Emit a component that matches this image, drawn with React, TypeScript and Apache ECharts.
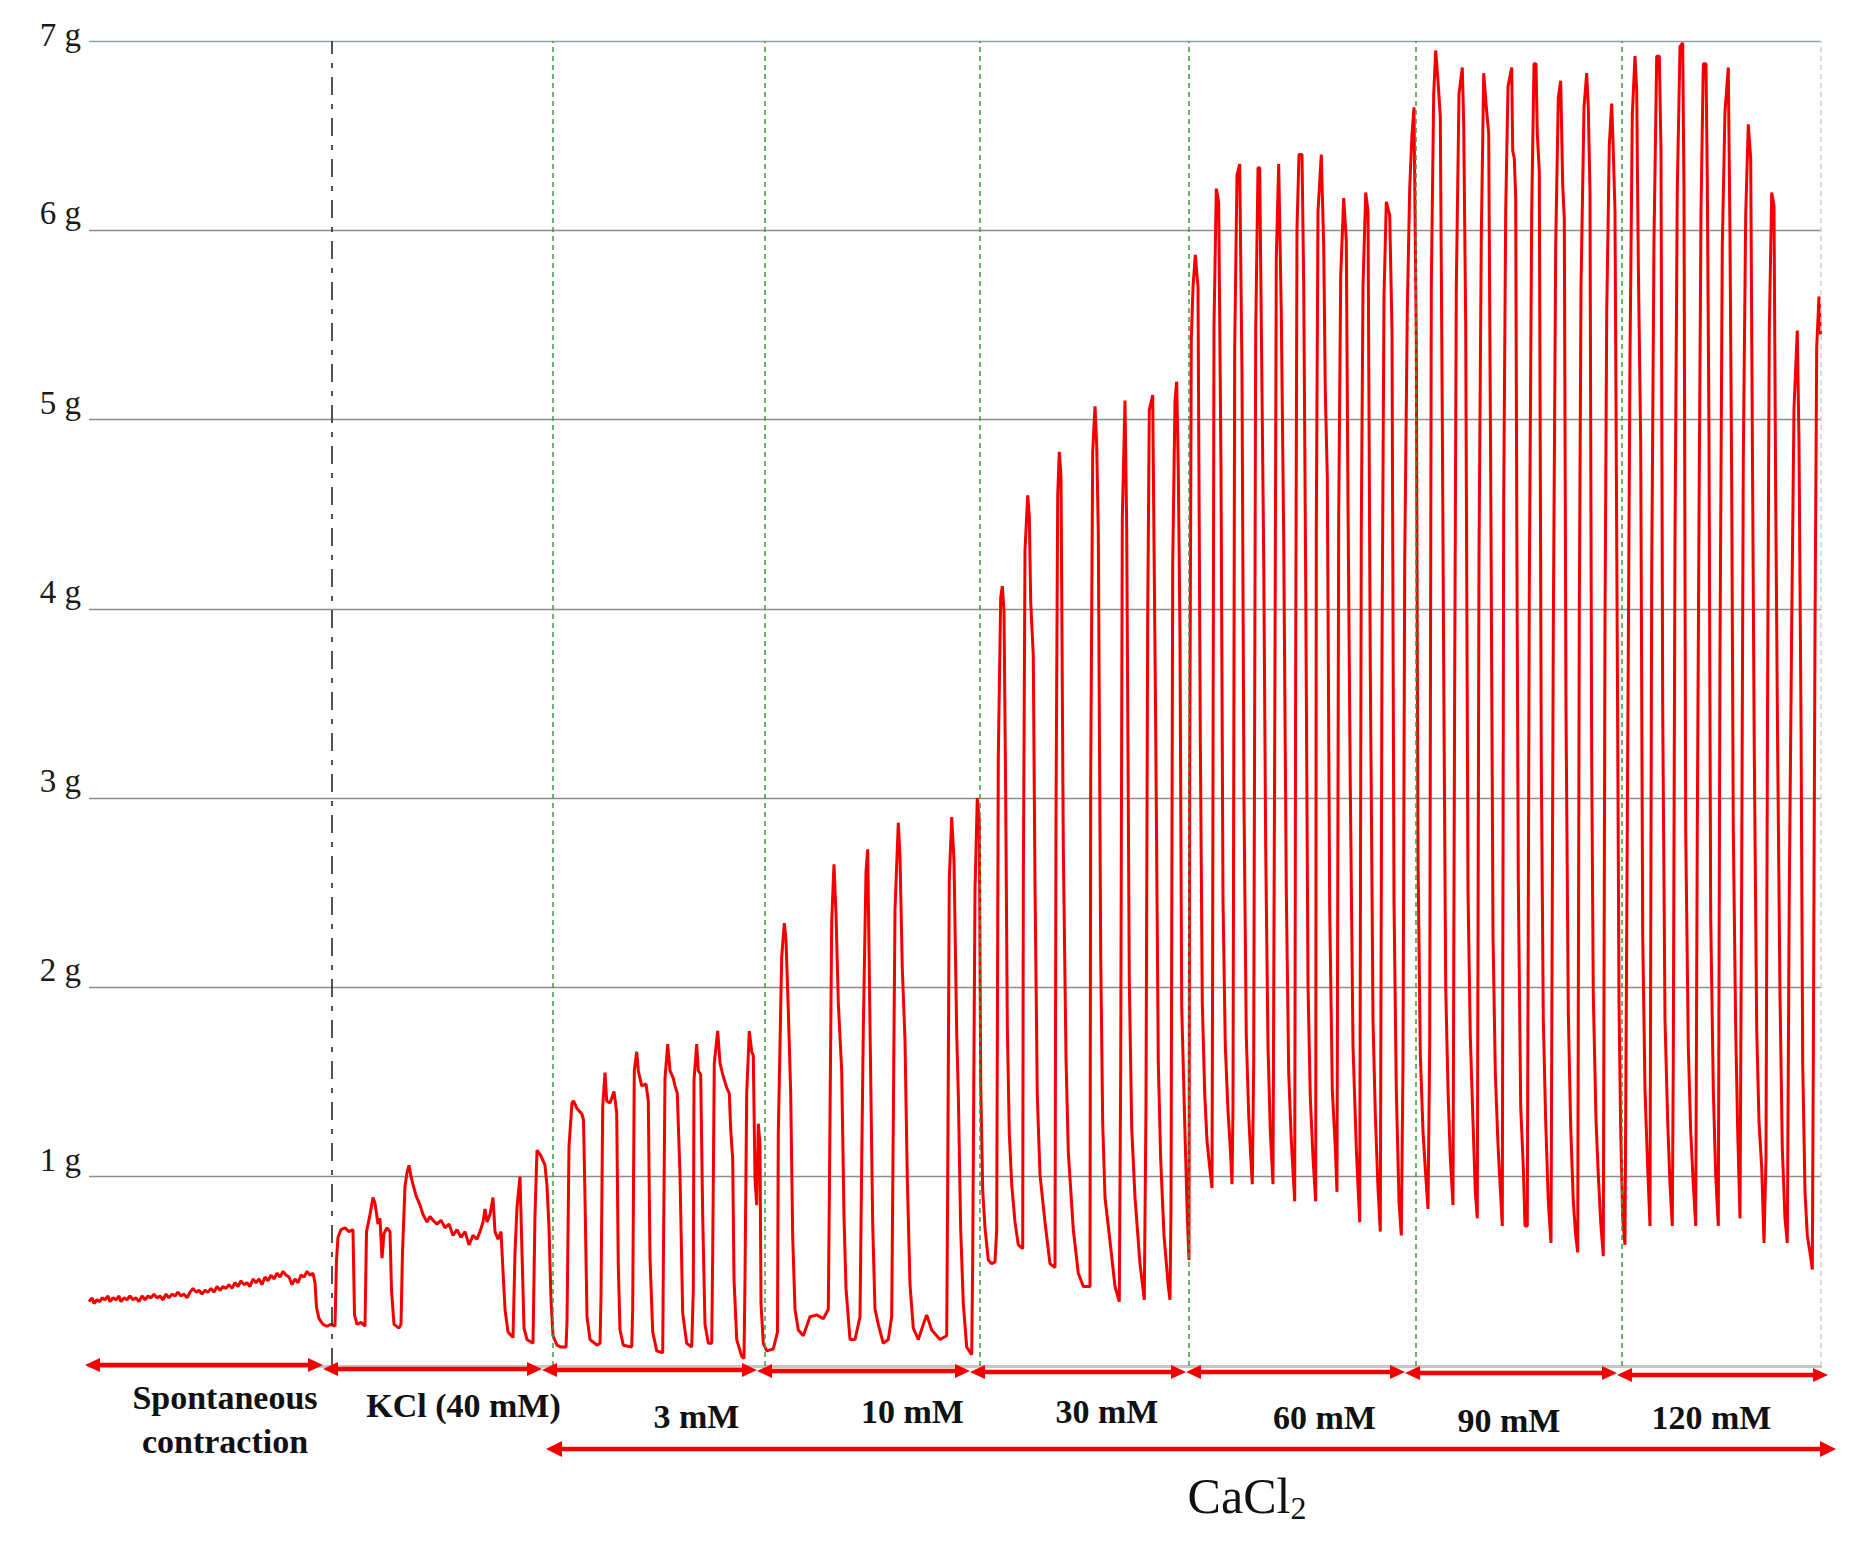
import React, { useEffect, useRef } from "react";
import * as echarts from "echarts";

// ---------- data (time in arbitrary recording units, force in g) ----------
const yTicks = [0, 1, 2, 3, 4, 5, 6, 7];
const tEnd = 1732;

const spontaneous: number[][] = [
  [0, 0.34], [3, 0.36], [5, 0.33], [8, 0.35], [11, 0.34], [13, 0.36], [16, 0.35], [19, 0.37], [21, 0.34], [24, 0.36],
  [27, 0.35], [30, 0.37], [32, 0.34], [35, 0.36], [38, 0.35], [41, 0.37], [44, 0.35], [47, 0.36], [50, 0.34], [53, 0.37],
  [56, 0.35], [59, 0.37], [62, 0.36], [65, 0.38], [68, 0.36], [71, 0.37], [74, 0.35], [77, 0.38], [80, 0.36], [83, 0.38],
  [86, 0.37], [89, 0.39], [92, 0.37], [95, 0.38], [98, 0.36], [101, 0.39], [104, 0.41], [107, 0.39], [110, 0.4], [113, 0.38],
  [116, 0.4], [119, 0.39], [122, 0.41], [125, 0.39], [128, 0.42], [131, 0.4], [134, 0.42], [137, 0.41], [140, 0.43], [143, 0.41],
  [146, 0.44], [149, 0.42], [152, 0.45], [155, 0.43], [158, 0.44], [161, 0.42], [164, 0.46], [167, 0.44], [170, 0.46], [173, 0.43],
  [176, 0.47], [179, 0.45], [182, 0.48], [185, 0.46], [188, 0.49], [191, 0.47], [194, 0.5], [197, 0.48], [200, 0.47], [203, 0.43],
  [206, 0.46], [209, 0.44], [212, 0.48], [215, 0.47], [218, 0.5], [221, 0.48], [224, 0.49], [226, 0.44], [227.5, 0.31], [230, 0.25],
  [234, 0.22], [238, 0.21], [242, 0.22], [246, 0.21],
];

const kcl: number[][] = [
  [247.5, 0.56], [249, 0.68], [252, 0.72], [256, 0.73], [260, 0.71], [264, 0.72], [265.5, 0.27], [268, 0.22], [272, 0.23],
  [276, 0.21], [277.5, 0.71], [281, 0.8], [284, 0.89], [286, 0.86], [289, 0.75], [291, 0.78], [293, 0.57], [295, 0.7],
  [298, 0.73], [301, 0.71], [302.5, 0.4], [305, 0.22], [310, 0.2], [312, 0.22], [313.5, 0.6], [316, 0.95], [318, 1.02],
  [320, 1.06], [322, 1.0], [324, 0.96], [327, 0.9], [331, 0.85], [334, 0.8], [338, 0.76], [341, 0.79], [344, 0.77],
  [348, 0.75], [352, 0.77], [356, 0.73], [360, 0.75], [364, 0.69], [368, 0.72], [372, 0.68], [376, 0.71], [380, 0.64],
  [384, 0.69], [388, 0.67], [391, 0.71], [394, 0.76], [396, 0.83], [398, 0.76], [401, 0.8], [404, 0.89], [406, 0.71],
  [409, 0.67], [412, 0.71], [414, 0.5], [416, 0.3], [419, 0.18], [424, 0.15], [426, 0.6], [428, 0.84], [431, 1.0],
  [433, 0.6], [435, 0.2], [438, 0.14], [444, 0.12], [446, 0.8], [448, 1.14], [452, 1.11], [456, 1.06], [458, 0.95],
  [460, 0.73], [462, 0.35], [464, 0.16], [468, 0.11], [472, 0.1], [477, 0.1],
];

const ca3: number[][] = [
  [478, 0.23], [480, 1.16], [483, 1.39], [484.5, 1.4], [488, 1.36], [493, 1.33], [494.5, 1.3], [496, 0.89], [498, 0.26], [501, 0.14], [508, 0.11], [511, 0.12],
  [512, 0.36], [513.7, 1.37], [516, 1.55], [517.7, 1.4], [521, 1.39], [525, 1.45], [527.7, 1.34], [529.3, 0.53], [531, 0.19], [534.3, 0.11], [542.7, 0.1],
  [543.7, 0.3], [545.3, 1.56], [547.7, 1.66], [549.3, 1.56], [552.7, 1.48], [557, 1.49], [559.3, 1.4], [561, 0.57], [563.7, 0.18], [567.7, 0.08], [573.7, 0.07],
  [574.3, 0.51], [576, 1.52], [578.7, 1.7], [581, 1.56], [584.3, 1.52], [586, 1.48], [588.3, 1.44], [591, 1.01], [593.7, 0.28], [597.7, 0.12], [602.7, 0.1],
  [604.3, 0.4], [605, 1.51], [607.7, 1.7], [609.3, 1.56], [611.7, 1.54], [613.7, 0.79], [616, 0.22], [619.3, 0.12], [622.7, 0.12],
  [623.7, 0.59], [625.3, 1.6], [628.7, 1.77], [631, 1.6], [633.7, 1.54], [637.7, 1.47], [640.3, 1.44], [641.7, 1.25], [643.7, 1.09], [645, 0.46], [647.7, 0.14], [652.7, 0.05], [655, 0.04],
  [656, 0.46], [657.7, 1.44], [660.3, 1.77], [662.7, 1.66], [664.3, 1.64], [666, 0.99], [667.7, 0.85], [669.3, 1.28], [671, 1.17], [672, 0.33], [674.3, 0.12], [677.7, 0.08], [684.3, 0.09],
];

const ca10: number[][] = [
  [688.5, 0.18], [689.3, 1.23], [692.7, 2.16], [695.3, 2.34], [697, 2.25], [699.3, 1.88], [701.7, 1.44], [703.7, 0.68], [706, 0.3], [709.3, 0.19], [714.3, 0.16], [721, 0.26], [727.7, 0.27], [734.3, 0.25], [739.3, 0.3],
  [740.3, 0.87], [742.7, 2.35], [745, 2.65], [747, 2.39], [749.3, 1.92], [752.7, 1.56], [755, 0.79], [757, 0.41], [761, 0.14], [766, 0.14], [771, 0.26],
  [772.7, 1.07], [774.3, 1.78], [777, 2.61], [778.7, 2.73], [781, 1.8], [783.7, 0.75], [786, 0.3], [789.3, 0.22], [794.3, 0.12], [799.3, 0.14], [802.7, 0.26],
  [804.3, 1.29], [806, 2.41], [809.3, 2.87], [811, 2.69], [813.3, 2.1], [816, 1.72], [818.3, 0.99], [821, 0.43], [824.3, 0.2], [829.3, 0.14], [834.3, 0.22], [837.7, 0.27], [842.7, 0.19], [851, 0.14], [857.7, 0.16],
  [858.7, 0.97], [860.3, 2.57], [862.7, 2.9], [865, 2.67], [867.7, 1.76], [869.3, 1.44], [871.7, 0.72], [874.3, 0.33], [877.7, 0.1], [882.7, 0.06],
  [883.7, 0.56], [886, 2.51], [888.3, 3.0], [890.3, 2.88], [891.7, 1.5], [893.7, 0.93], [896, 0.73], [899.3, 0.56], [902.7, 0.54], [906, 0.55],
];

const ca30: number[][] = [
  [907.7, 0.72], [909.3, 3.22], [911.7, 4.06], [913.3, 4.12], [915, 3.99], [916.7, 3.01], [918.3, 1.8], [920.3, 1.23], [922.7, 0.96], [926, 0.76], [929.3, 0.64], [933.7, 0.62],
  [934.3, 2.51], [936, 4.31], [938.7, 4.6], [940.3, 4.49], [941.7, 4.04], [944.3, 3.75], [946, 2.54], [948.3, 1.43], [951, 1.01], [956, 0.76], [961, 0.54], [966, 0.52],
  [967, 2.91], [968.7, 4.6], [970.3, 4.83], [972, 4.7], [974.3, 2.74], [977, 1.63], [979.3, 1.13], [984.3, 0.72], [989.3, 0.49], [994.3, 0.42], [1001, 0.42],
  [1001.7, 3.11], [1003.7, 4.83], [1006, 5.07], [1007.7, 4.87], [1009.3, 4.41], [1011.7, 2.17], [1013.7, 1.28], [1016, 0.89], [1021, 0.66], [1026, 0.42], [1030.3, 0.34],
  [1031.7, 1.57], [1033.3, 4.48], [1036, 5.1], [1037.7, 4.43], [1040.3, 2.04], [1042.7, 1.26], [1046, 0.89], [1051, 0.54], [1055.3, 0.35],
  [1057, 1.38], [1058.7, 3.96], [1060.3, 5.05], [1063.7, 5.13], [1065, 4.36], [1066.7, 3.37], [1069.3, 1.6], [1071.7, 1.09], [1075, 0.69], [1079.3, 0.42], [1081, 0.35],
  [1082, 0.83], [1083.7, 4.23], [1086, 5.1], [1087.7, 5.2], [1089.3, 4.73], [1091, 3.86], [1092.7, 1.9], [1096, 1.23], [1098.3, 0.79], [1100, 0.56],
];

const ca60: number[][] = [
  [1100.7, 3.15], [1102.3, 5.42], [1104, 5.7], [1106.3, 5.87], [1109, 5.7], [1111.3, 3.33], [1113.3, 1.92], [1115.7, 1.44], [1118, 1.19], [1120.7, 1.05], [1123, 0.94],
  [1123.5, 1.9], [1125, 5.49], [1127.3, 6.22], [1129.7, 6.15], [1132, 4.74], [1134, 2.46], [1136.3, 1.69], [1139, 1.35], [1141.3, 1.15], [1143, 0.96],
  [1144, 1.37], [1145.7, 5.38], [1148, 6.29], [1150.7, 6.35], [1153, 5.24], [1155, 2.97], [1157.3, 1.74], [1159.7, 1.33], [1161.3, 1.15], [1163.3, 0.96],
  [1164.7, 1.6], [1166.7, 5.47], [1169, 6.33], [1170.7, 6.33], [1172.3, 5.51], [1174.7, 4.28], [1176.7, 2.74], [1179, 1.69], [1181.3, 1.24], [1184, 0.96],
  [1185.7, 3.28], [1187.3, 5.85], [1189.7, 6.35], [1192.3, 5.56], [1194.7, 4.38], [1197.3, 2.51], [1199.7, 1.55], [1202.3, 1.19], [1205.7, 0.87],
  [1206.7, 3.78], [1208, 6.01], [1210, 6.4], [1213, 6.4], [1214.7, 5.72], [1216.7, 4.15], [1219, 2.01], [1221.3, 1.42], [1224, 1.1], [1226.7, 0.87],
  [1227.3, 4.42], [1229, 6.1], [1232.3, 6.4], [1234.7, 5.92], [1236.3, 5.15], [1238.3, 4.69], [1240.7, 2.42], [1243.3, 1.46], [1246.3, 1.15], [1248, 0.92],
  [1249.7, 4.49], [1251.7, 5.76], [1254.7, 6.17], [1257.3, 5.95], [1259, 4.56], [1261.3, 3.06], [1264, 1.69], [1267.3, 1.15], [1270.7, 0.76],
  [1272.3, 4.42], [1274, 5.7], [1276.7, 6.2], [1279, 6.1], [1281.3, 3.69], [1284, 1.83], [1286.3, 1.33], [1289, 0.94], [1291.3, 0.71],
  [1293, 3.78], [1295, 5.65], [1297.3, 6.15], [1300.7, 6.08], [1303, 5.47], [1305, 2.46], [1307.3, 1.46], [1310, 0.87], [1312.3, 0.69],
  [1314, 1.6], [1315.7, 4.24], [1318.3, 5.58], [1320.7, 6.22], [1323, 6.51], [1325, 6.65], [1327.3, 5.42], [1329, 2.69], [1331.3, 1.65], [1334, 1.24], [1336.7, 1.01], [1339, 0.83],
];

const ca90: number[][] = [
  [1340.7, 1.69], [1342.3, 5.7], [1344.7, 6.72], [1346.7, 6.95], [1349, 6.79], [1351.3, 6.6], [1353.3, 5.01], [1355, 3.42], [1356.7, 2.01], [1359, 1.46], [1361.3, 1.1], [1364, 0.85],
  [1365.7, 3.65], [1367.3, 5.7], [1370, 6.72], [1373.3, 6.86], [1374.7, 6.56], [1376.7, 5.51], [1379, 2.51], [1381.3, 1.74], [1384, 1.29], [1386.3, 0.92], [1388.3, 0.78],
  [1390, 4.28], [1392.3, 5.97], [1394.7, 6.83], [1397.3, 6.65], [1399.7, 6.51], [1401.7, 4.72], [1404, 2.28], [1406.3, 1.55], [1409, 1.17], [1411.3, 0.94], [1413.3, 0.74],
  [1414.7, 4.58], [1416.7, 6.1], [1419, 6.76], [1422.7, 6.86], [1423.7, 6.42], [1425.3, 6.38], [1426.7, 6.17], [1427.7, 4.58], [1429.3, 2.56], [1431.7, 1.37], [1434.3, 1.05], [1436, 0.74], [1438.3, 0.74],
  [1440.3, 4.1], [1442.7, 6.1], [1445, 6.88], [1447, 6.88], [1448.3, 6.51], [1450.3, 6.31], [1452.3, 3.19], [1454.3, 1.83], [1456.7, 1.29], [1459.3, 0.87], [1462, 0.65],
  [1464.3, 3.88], [1466.7, 5.92], [1469.3, 6.7], [1471.7, 6.79], [1473.7, 6.24], [1475.3, 6.06], [1477, 3.47], [1479.3, 1.87], [1481.7, 1.26], [1484.3, 0.87], [1486.7, 0.69], [1488.7, 0.6],
  [1490.3, 3.97], [1492, 5.7], [1495, 6.65], [1497.7, 6.83], [1499.3, 6.65], [1501, 6.2], [1502.7, 3.19], [1504.3, 1.96], [1507, 1.3], [1509.3, 1.01], [1511.7, 0.76], [1514.3, 0.58],
  [1516, 3.92], [1517.7, 5.56], [1520.3, 6.45], [1522.7, 6.67], [1524.3, 6.42], [1526, 6.1], [1528.3, 3.78], [1530, 1.92], [1531.7, 1.24], [1533.7, 0.78], [1536, 0.64],
];

const ca120: number[][] = [
  [1538.7, 3.24], [1541, 5.33], [1543.3, 6.61], [1546, 6.92], [1547.7, 6.74], [1549.3, 5.83], [1551.7, 4.88], [1553.7, 2.28], [1556, 1.46], [1558.3, 1.1], [1561, 0.74],
  [1562.7, 4.19], [1565, 5.95], [1567.7, 6.92], [1570.3, 6.92], [1572, 6.42], [1573.7, 3.47], [1576, 1.83], [1578.7, 1.29], [1581, 0.96], [1583.3, 0.74],
  [1584.3, 1.62], [1586, 4.38], [1588.3, 6.22], [1591, 6.97], [1593.7, 6.99], [1595, 6.2], [1596.7, 2.83], [1599.3, 1.69], [1601.7, 1.24], [1604.3, 0.96], [1606.7, 0.74],
  [1608.3, 2.83], [1610, 4.47], [1612, 6.1], [1614.3, 6.88], [1617, 6.88], [1618.3, 6.26], [1620, 4.92], [1621.7, 2.37], [1624.3, 1.46], [1626.7, 1.01], [1629.3, 0.74],
  [1631, 3.78], [1633.3, 5.92], [1636, 6.63], [1639.3, 6.86], [1641, 5.97], [1642.7, 4.65], [1644.3, 2.83], [1646.7, 1.78], [1648.7, 1.24], [1651, 0.78],
  [1652.7, 2.6], [1654.3, 4.79], [1656.7, 6.08], [1659.3, 6.56], [1661.7, 6.38], [1663.7, 4.6], [1665.3, 3.24], [1667.7, 1.78], [1670, 1.29], [1672.7, 1.05], [1675, 0.65],
  [1677, 1.1], [1678.7, 3.69], [1680.3, 5.47], [1682.7, 6.2], [1685, 6.13], [1686.7, 4.6], [1688.7, 3.24], [1691, 1.96], [1693.3, 1.15], [1696, 0.78], [1698.3, 0.65],
  [1700.3, 2.51], [1702.7, 3.92], [1705, 5.06], [1708.3, 5.47], [1710, 4.88], [1712, 3.42], [1713.7, 1.6], [1716, 0.92], [1718.3, 0.69], [1721, 0.6], [1723.3, 0.51],
  [1724.3, 1.6], [1726, 3.88], [1727.7, 5.38], [1730, 5.65], [1731.5, 5.45],
];

// drug additions: first = KCl, rest = CaCl2 steps
const kclAddition = 243;
const cacl2Additions = [463.5, 675.7, 890.3, 1100, 1326.6, 1532.9];

const segmentNames = ["Spontaneous\ncontraction", "KCl (40 mM)", "3 mM", "10 mM", "30 mM", "60 mM", "90 mM", "120 mM"];
const segmentBounds = [-4, 234, 453, 668, 881, 1097, 1316, 1528, 1739];
const cacl2Span = [457, 1747];
const cacl2Name = "CaCl";
const cacl2Sub = "2";

// ---------- layout (pixels, not data) ----------
const LABEL_DX = [21, 31, 47, 49, 29, 29, -2, -11];
const LABEL_DY = [53, 39, 50, 45, 45, 51, 54, 51];
const ARROW_DY = [-1, 3, 4, 5, 6, 6, 7, 9];
const RED = "#f40000";
const SERIF = '"Liberation Serif", "Times New Roman", serif';

export default function App() {
  const ref = useRef<HTMLDivElement>(null);

  useEffect(() => {
    document.body.style.margin = "0";
    const chart = echarts.init(ref.current as HTMLDivElement, null, { renderer: "svg" });
    const trace = [...spontaneous, ...kcl, ...ca3, ...ca10, ...ca30, ...ca60, ...ca90, ...ca120];
    const segData = segmentNames.map((_, i) => [segmentBounds[i], segmentBounds[i + 1], i]);

    const arrow = (x0: number, x1: number, y: number, lw: number, hl: number, hw: number) => [
      { type: "line", shape: { x1: x0 + hl - 2, y1: y, x2: x1 - hl + 2, y2: y }, style: { stroke: RED, lineWidth: lw } },
      { type: "polygon", shape: { points: [[x0, y], [x0 + hl, y - hw], [x0 + hl, y + hw]] }, style: { fill: RED } },
      { type: "polygon", shape: { points: [[x1, y], [x1 - hl, y - hw], [x1 - hl, y + hw]] }, style: { fill: RED } },
    ];

    const gridColors = ["rgba(0,0,0,0)", "#8d8d8d", "#8d8d8d", "#8d8d8d", "#8d8d8d", "#8d8d8d", "#8d8d8d", "#8ea2ae"];

    chart.setOption({
      animation: false,
      grid: { left: 89, right: 38, top: 41, bottom: 184, containLabel: false },
      xAxis: {
        type: "value",
        min: 0,
        max: tEnd,
        axisLine: { show: true, lineStyle: { color: "#c6c6c6", width: 3 } },
        axisTick: { show: false },
        axisLabel: { show: false },
        splitLine: { show: false },
      },
      yAxis: {
        type: "value",
        min: yTicks[0],
        max: yTicks[yTicks.length - 1],
        interval: 1,
        axisLine: { show: false },
        axisTick: { show: false },
        axisLabel: {
          margin: 8,
          verticalAlign: "bottom",
          formatter: (v: number) => (v === 0 ? "" : v === 7 ? `{t|${v} g}` : `{n|${v} g}`),
          rich: {
            n: { fontSize: 33, fontFamily: SERIF, color: "#1a1a1a", lineHeight: 34 },
            t: { fontSize: 33, fontFamily: SERIF, color: "#1a1a1a", lineHeight: 12 },
          },
        },
        splitLine: { show: true, lineStyle: { color: gridColors, width: 1.3 } },
      },
      series: [
        {
          type: "line",
          data: trace,
          showSymbol: false,
          symbol: "none",
          lineStyle: { color: RED, width: 3 },
          z: 3,
          markLine: {
            silent: true,
            symbol: ["none", "none"],
            label: { show: false },
            animation: false,
            data: [
              { xAxis: kclAddition, lineStyle: { color: "#2a2a2a", type: [18, 9, 5, 9], width: 1.6 } },
              ...cacl2Additions.map((t) => ({ xAxis: t, lineStyle: { color: "#3f9a3a", type: [5, 4], width: 1.5 } })),
              { xAxis: tEnd, lineStyle: { color: "#cfcfcf", type: [5, 4], width: 1.5 } },
            ],
          },
        },
        {
          type: "custom",
          coordinateSystem: "cartesian2d",
          clip: false,
          silent: true,
          z: 5,
          data: segData,
          encode: { x: [0, 1] },
          renderItem: (_params: any, api: any) => {
            const i = api.value(2) as number;
            const a = api.coord([api.value(0), 0]);
            const b = api.coord([api.value(1), 0]);
            const y = a[1] + ARROW_DY[i];
            const mid = (a[0] + b[0]) / 2 + LABEL_DX[i];
            return {
              type: "group",
              children: [
                ...arrow(a[0], b[0], y, 4.5, 15, 7),
                {
                  type: "text",
                  style: {
                    text: segmentNames[i],
                    x: mid,
                    y: a[1] + LABEL_DY[i],
                    fill: "#111",
                    fontSize: 34,
                    fontWeight: "bold",
                    fontFamily: SERIF,
                    align: "center",
                    verticalAlign: "middle",
                    lineHeight: 44,
                  },
                },
              ],
            };
          },
        },
        {
          type: "custom",
          coordinateSystem: "cartesian2d",
          clip: false,
          silent: true,
          z: 5,
          data: [[cacl2Span[0], cacl2Span[1]]],
          encode: { x: [0, 1] },
          renderItem: (_params: any, api: any) => {
            const a = api.coord([api.value(0), 0]);
            const b = api.coord([api.value(1), 0]);
            const y = a[1] + 83;
            const mid = (a[0] + b[0]) / 2 + 56;
            return {
              type: "group",
              children: [
                ...arrow(a[0], b[0], y, 4.5, 16, 8),
                {
                  type: "text",
                  style: {
                    text: `{a|${cacl2Name}}{b|${cacl2Sub}}`,
                    x: mid,
                    y: a[1] + 130,
                    align: "center",
                    verticalAlign: "middle",
                    rich: {
                      a: { fontSize: 50, fontFamily: SERIF, fill: "#111", lineHeight: 56 },
                      b: { fontSize: 32, fontFamily: SERIF, fill: "#111", lineHeight: 20, verticalAlign: "bottom" },
                    },
                  },
                },
              ],
            };
          },
        },
      ],
    });
    return () => chart.dispose();
  }, []);

  return <div ref={ref} style={{ width: 1859, height: 1550 }} />;
}
